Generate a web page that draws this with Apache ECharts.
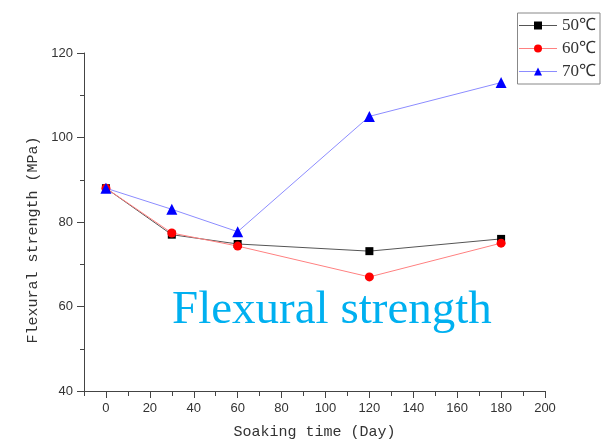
<!DOCTYPE html>
<html>
<head>
<meta charset="utf-8">
<script src="https://cdn.jsdelivr.net/npm/echarts@6/dist/echarts.min.js"></script>
<style>
  html, body { margin: 0; padding: 0; background: #fff; }
  #chart { width: 610px; height: 445px; }
</style>
</head>
<body>
<div id="chart"></div>
<script>
const days = [0, 30, 60, 120, 180];
const strength50 = [88, 77, 74.8, 73.1, 76];
const strength60 = [88, 77.4, 74.3, 67, 75];
const strength70 = [88, 83, 77.7, 105, 113];
const xMajorTicks = [0, 20, 40, 60, 80, 100, 120, 140, 160, 180, 200];

const serifMono = "'Liberation Mono', 'DejaVu Sans Mono', monospace";
const axisColor = "#444";

function pairs(values) {
  return days.map((d, i) => [d, values[i]]);
}

function lineSeries(name, values, symbol, size, markColor, lineColor) {
  return {
    name,
    type: "line",
    data: pairs(values),
    symbol,
    symbolSize: size,
    itemStyle: { color: markColor },
    lineStyle: { color: lineColor, width: 1 },
    emphasis: { disabled: true },
  };
}

const chart = echarts.init(document.getElementById("chart"));
chart.setOption({
  animation: false,
  grid: [
    { left: 84, right: 65, top: 53, bottom: 53 },
    { left: 84, right: 65, top: 53, bottom: 53 },
  ],
  legend: {
    right: 10,
    top: 13,
    orient: "vertical",
    borderColor: "#888",
    borderWidth: 1,
    padding: [4, 4, 4, 1],
    itemWidth: 38,
    itemHeight: 10,
    itemGap: 6,
    lineStyle: { width: 1 },
    textStyle: { fontSize: 17, color: "#333", fontFamily: "'Liberation Serif', serif", lineHeight: 17 },
    data: ["50℃", "60℃", "70℃"],
  },
  xAxis: [
    {
      type: "value",
      gridIndex: 0,
      min: -10,
      max: 200,
      name: "Soaking time (Day)",
      nameLocation: "middle",
      nameGap: 34,
      nameTextStyle: { fontSize: 15, color: "#333", fontFamily: serifMono },
      axisLine: { onZero: false, lineStyle: { color: axisColor, width: 1 } },
      axisTick: { length: 7, customValues: xMajorTicks, lineStyle: { color: axisColor } },
      axisLabel: { customValues: xMajorTicks, fontSize: 13, color: "#333", margin: 11, fontFamily: "'Liberation Sans', Arial, sans-serif" },
      splitLine: { show: false },
    },
    {
      type: "value",
      gridIndex: 1,
      min: -10,
      max: 200,
      interval: 10,
      axisLine: { show: false, onZero: false },
      axisTick: { length: 4, lineStyle: { color: axisColor } },
      axisLabel: { show: false },
      splitLine: { show: false },
    },
  ],
  yAxis: [
    {
      type: "value",
      gridIndex: 0,
      min: 40,
      max: 120,
      interval: 20,
      axisLine: { show: true, onZero: false, lineStyle: { color: axisColor, width: 1 } },
      axisTick: { show: true, length: 7, lineStyle: { color: axisColor } },
      minorTick: { show: true, splitNumber: 2, length: 4, lineStyle: { color: axisColor } },
      axisLabel: { fontSize: 13, color: "#333", margin: 11, fontFamily: "'Liberation Sans', Arial, sans-serif" },
      splitLine: { show: false },
    },
    {
      type: "value",
      gridIndex: 1,
      min: 40,
      max: 120,
      show: false,
    },
  ],
  graphic: [
    {
      type: "text",
      x: 33,
      y: 240,
      rotation: Math.PI / 2,
      style: {
        text: "Flexural strength (MPa)",
        fontSize: 15,
        fill: "#333",
        fontFamily: serifMono,
        align: "center",
        verticalAlign: "middle",
      },
    },
    {
      type: "text",
      x: 172,
      y: 311,
      style: {
        text: "Flexural strength",
        fontSize: 47,
        fill: "#00b0f0",
        fontFamily: "'Liberation Serif', 'Times New Roman', serif",
        align: "left",
        verticalAlign: "middle",
      },
    },
  ],
  series: [
    lineSeries("50℃", strength50, "rect", 8, "#000", "#555"),
    lineSeries("60℃", strength60, "circle", 9, "#ff0000", "#ff8080"),
    lineSeries("70℃", strength70, "triangle", 11, "#0000ff", "#8c8cff"),
  ],
});
</script>
</body>
</html>
